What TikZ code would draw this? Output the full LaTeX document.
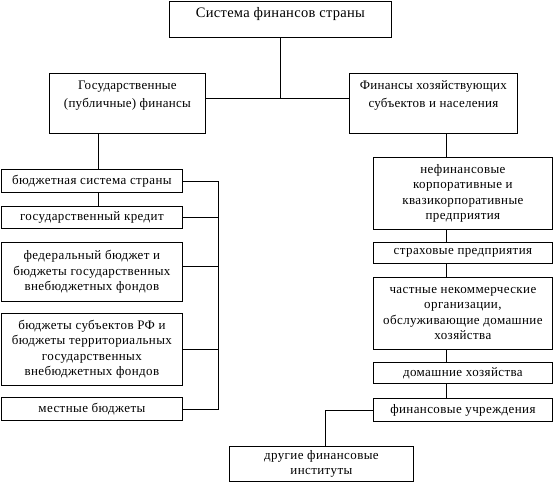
\documentclass[tikz,border=0pt]{standalone}
\usepackage{fontspec}
\setmainfont{Liberation Serif}
\usetikzlibrary{calc}
\begin{document}
\begin{tikzpicture}[x=1pt,y=-1pt,
  box/.style={draw, line width=0.8pt, anchor=north west, inner sep=0pt, align=center,
    font=\fontsize{13}{15.5}\selectfont\addfontfeatures{LetterSpace=3}},
  conn/.style={line width=0.8pt}]
\useasboundingbox (0,0) rectangle (554,482);
% top
\node[box, minimum width=222pt, minimum height=36pt, font=\fontsize{14.5}{16}\selectfont\addfontfeatures{LetterSpace=2}] (top) at (169,1) {Система финансов страны\\[-2pt]\mbox{}};
\node[box, minimum width=156pt, minimum height=60pt, font=\fontsize{13}{18}\selectfont\addfontfeatures{LetterSpace=2}] (gov) at (49,73) {Государственные\\(публичные) финансы\\ \mbox{}};
\node[box, minimum width=168pt, minimum height=60pt, font=\fontsize{13}{18}\selectfont\addfontfeatures{LetterSpace=2}] (hoz) at (349,73) {Финансы хозяйствующих\\субъектов и населения\\ \mbox{}};
% left column
\node[box, minimum width=181pt, minimum height=23pt] (b1) at (1,169) {бюджетная система страны};
\node[box, minimum width=181pt, minimum height=22pt] (b2) at (1,206) {государственный кредит};
\node[box, minimum width=181pt, minimum height=59pt] (b3) at (1,242) {федеральный бюджет и\\бюджеты государственных\\внебюджетных фондов};
\node[box, minimum width=181pt, minimum height=72pt] (b4) at (1,313) {бюджеты субъектов РФ и\\бюджеты территориальных\\государственных\\внебюджетных фондов};
\node[box, minimum width=181pt, minimum height=23pt] (b5) at (1,397) {местные бюджеты};
% right column
\node[box, minimum width=179pt, minimum height=72pt] (nf) at (373,157) {нефинансовые\\корпоративные и\\квазикорпоративные\\предприятия};
\node[box, minimum width=179pt, minimum height=21pt] (st) at (373,242) {страховые предприятия};
\node[box, minimum width=179pt, minimum height=72pt] (ch) at (373,277) {частные некоммерческие\\организации,\\обслуживающие домашние\\хозяйства};
\node[box, minimum width=179pt, minimum height=21pt] (dm) at (373,362) {домашние хозяйства};
\node[box, minimum width=179pt, minimum height=23pt] (fu) at (373,398) {финансовые учреждения};
\node[box, minimum width=184pt, minimum height=35pt] (dr) at (229,446) {другие финансовые\\институты};
% helper coordinates
\coordinate (gl) at ([yshift=5pt]gov.east);
\coordinate (hl) at ([yshift=5pt]hoz.west);
\coordinate (lx) at ([xshift=6pt]b1.north);
\coordinate (rx) at ([xshift=-16.5pt]nf.north);
\coordinate (br) at (218,0);
\coordinate (b3c) at ([yshift=5.5pt]b3.east);
\coordinate (dk) at ([xshift=4pt]dr.north);
% connectors
\draw[conn] (top.south) -- (top.south |- gl);
\draw[conn] (gl) -- (hl);
\draw[conn] (lx) -- (lx |- gov.south);
\draw[conn] (lx |- b1.south) -- (lx |- b2.north);
\draw[conn] (b1.east) -- (b1.east -| br) -- (b5.east -| br) -- (b5.east);
\draw[conn] (b2.east) -- (b2.east -| br);
\draw[conn] (b3c) -- (b3c -| br);
\draw[conn] (b4.east) -- (b4.east -| br);
\draw[conn] (rx) -- (rx |- hoz.south);
\draw[conn] (rx |- nf.south) -- (rx |- st.north);
\draw[conn] (rx |- st.south) -- (rx |- ch.north);
\draw[conn] (rx |- ch.south) -- (rx |- dm.north);
\draw[conn] (rx |- dm.south) -- (rx |- fu.north);
\draw[conn] (fu.west) -- (fu.west -| dk) -- (dk);
\end{tikzpicture}
\end{document}
